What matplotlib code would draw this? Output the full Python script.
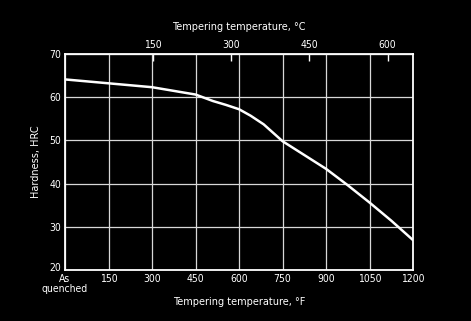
import matplotlib
matplotlib.use("Agg")
import matplotlib.pyplot as plt
import matplotlib.transforms as mtransforms
import numpy as np

temp_f = [0, 150, 300, 450, 510, 555, 600, 640, 685, 720, 750, 825, 900, 975, 1050, 1125, 1200]
hardness = [64.1, 63.2, 62.3, 60.6, 59.1, 58.2, 57.2, 55.7, 53.7, 51.6, 49.8, 46.6, 43.4, 39.6, 35.6, 31.4, 26.9]
f_ticks = [0, 150, 300, 450, 600, 750, 900, 1050, 1200]
f_labels = ["As\nquenched", "150", "300", "450", "600", "750", "900", "1050", "1200"]
c_ticks = [150, 300, 450, 600]
y_ticks = [20, 30, 40, 50, 60, 70]

plt.rcParams['font.family'] = ['DejaVu Sans']
fig = plt.figure(figsize=(4.71, 3.21), dpi=100, facecolor='black')
ax = fig.add_axes([0.138, 0.159, 0.739, 0.673], facecolor='black')

ax.set_xlim(0, 1200)
ax.set_ylim(20, 70)
ax.set_xticks(f_ticks)
ax.set_xticklabels(f_labels, color='white', fontsize=7.5, fontstretch='condensed',
                   linespacing=0.95)
ax.set_yticks(y_ticks)
ax.set_yticklabels([str(v) for v in y_ticks], color='white', fontsize=7.5, fontstretch='condensed')
ax.tick_params(axis='both', length=0, pad=3)
ax.grid(True, color='#d8d8d8', linewidth=0.9)
for s in ax.spines.values():
    s.set_color('white')
    s.set_linewidth(1.3)

# nudge the bottom y label up a little so it clears "As"
lab20 = ax.get_yticklabels()[0]
lab20.set_transform(lab20.get_transform() +
                    mtransforms.ScaledTranslation(0, 3 / 100, fig.dpi_scale_trans))

ax.plot(temp_f, hardness, color='white', linewidth=1.8, zorder=3)

ax.set_xlabel("Tempering temperature, °F", color='white', fontsize=7, labelpad=2)
ax.set_ylabel("Hardness, HRC", color='white', fontsize=7, labelpad=6)

# top Celsius axis
def c2f(c):
    return np.asarray(c) * 9 / 5 + 32
def f2c(f):
    return (np.asarray(f) - 32) * 5 / 9
top = ax.secondary_xaxis('top', functions=(f2c, c2f))
top.set_xticks(c_ticks)
top.set_xticklabels([str(v) for v in c_ticks], color='white', fontsize=7.5, fontstretch='condensed')
top.tick_params(direction='in', length=5, width=1, color='white', pad=3)
top.spines['top'].set_color('white')
top.set_xlabel("Tempering temperature, °C", color='white', fontsize=7, labelpad=7)

fig.savefig("out.png", dpi=100, facecolor='black')
